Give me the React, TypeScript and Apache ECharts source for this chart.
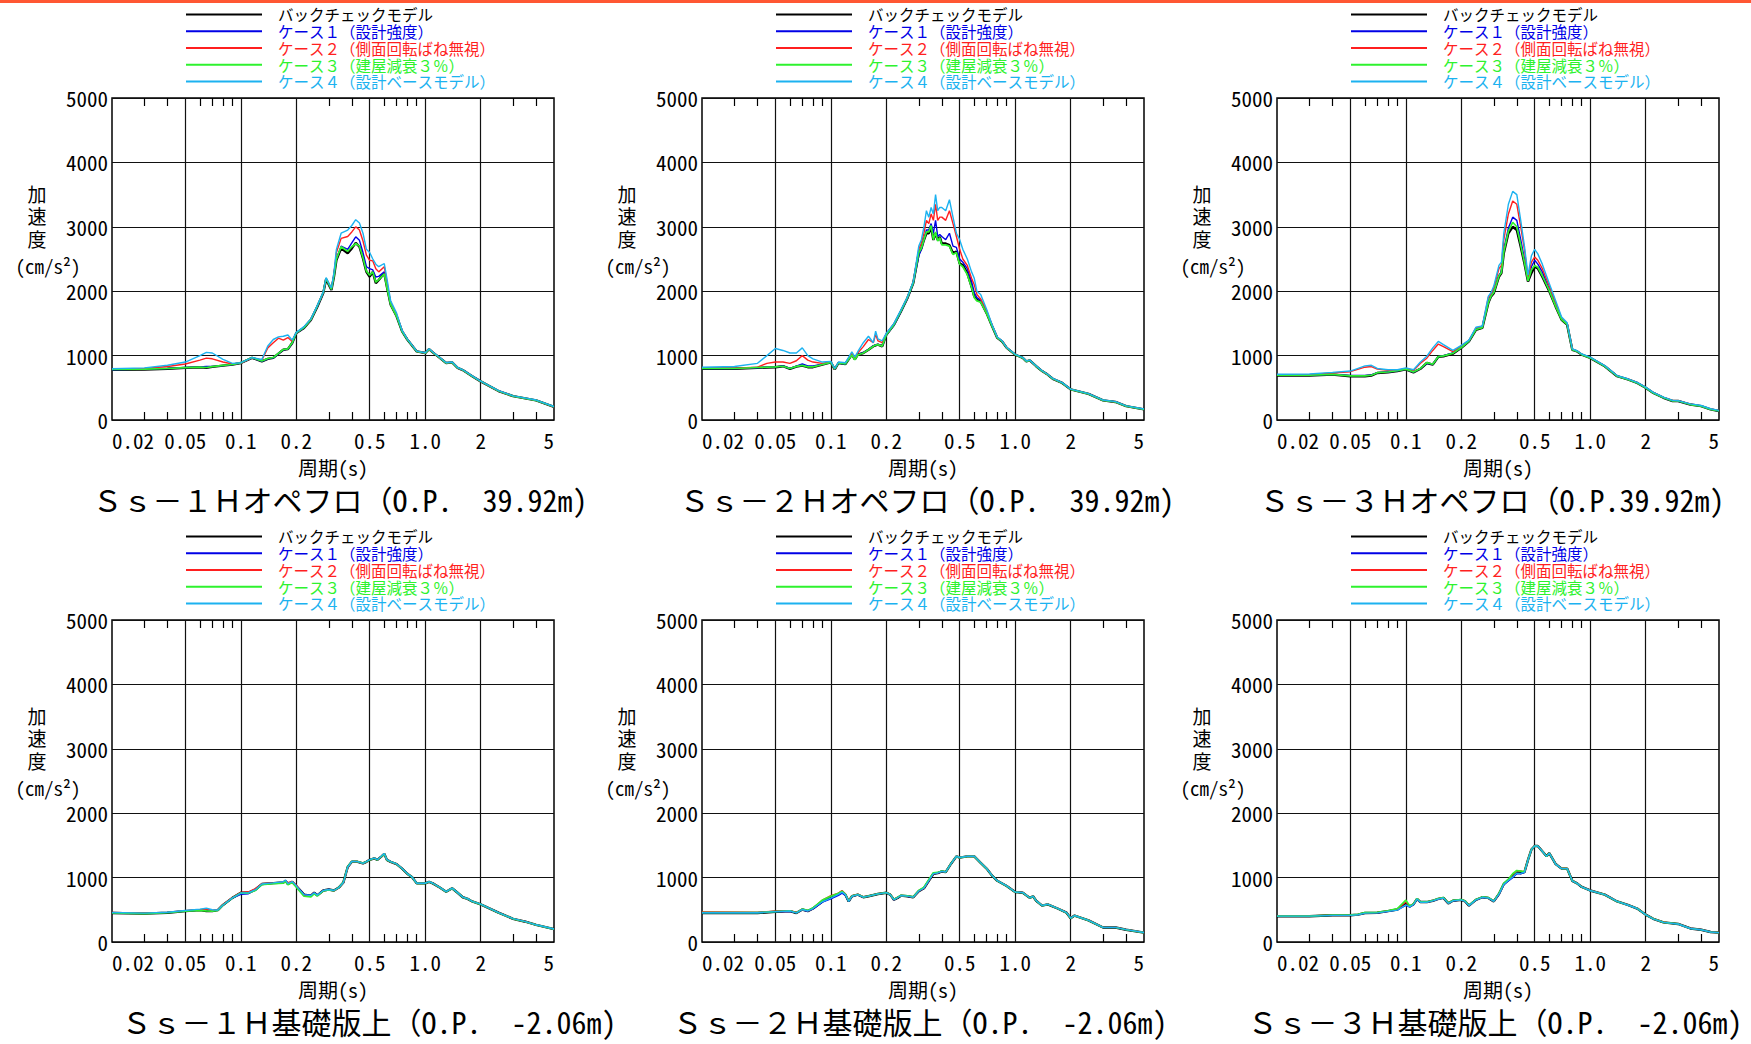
import React, { useEffect, useRef } from "react";
import * as echarts from "echarts";

// ---------- shared texts / styles ----------
const SERIES_NAMES = [
  "バックチェックモデル",
  "ケース１（設計強度）",
  "ケース２（側面回転ばね無視）",
  "ケース３（建屋減衰３％）",
  "ケース４（設計ベースモデル）",
];
const SERIES_COLORS = ["#000000", "#0000e6", "#ff1f1f", "#2ef22e", "#1cb2f0"];
const SERIES_WIDTHS = [2.4, 1.4, 1.4, 1.7, 1.4];

const X_MIN = 0.02;
const X_MAX = 5;
const X_LABELS = [0.02, 0.05, 0.1, 0.2, 0.5, 1, 2, 5];
const X_LABEL_TEXT = ["0.02", "0.05", "0.1", "0.2", "0.5", "1.0", "2", "5"];
const X_GRID = [0.05, 0.1, 0.2, 0.5, 1, 2];
const X_MINOR = [0.03, 0.04, 0.06, 0.07, 0.08, 0.09, 0.3, 0.4, 0.6, 0.7, 0.8, 0.9, 3, 4];
const Y_MIN = 0;
const Y_MAX = 5000;
const Y_INTERVAL = 1000;

const X_NAME = "周期(s)";
const Y_NAME = "加\n速\n度";
const Y_UNIT = "(cm/s²)";

const TITLES = [
  "Ｓｓ－１Ｈオペフロ（O.P.  39.92m)",
  "Ｓｓ－２Ｈオペフロ（O.P.  39.92m)",
  "Ｓｓ－３Ｈオペフロ（O.P.39.92m)",
  "Ｓｓ－１Ｈ基礎版上（O.P.  -2.06m)",
  "Ｓｓ－２Ｈ基礎版上（O.P.  -2.06m)",
  "Ｓｓ－３Ｈ基礎版上（O.P.  -2.06m)",
];

// ---------- panel 1 : Ss-1H オペフロ ----------
const P1_PERIOD = [0.02,0.03,0.04,0.05,0.06,0.065,0.07,0.08,0.09,0.1,0.115,0.13,0.14,0.15,0.16,0.17,0.18,0.19,0.2,0.22,0.24,0.26,0.28,0.29,0.31,0.32,0.33,0.35,0.38,0.4,0.42,0.44,0.46,0.48,0.5,0.52,0.54,0.56,0.6,0.62,0.65,0.7,0.75,0.8,0.9,1.0,1.05,1.1,1.2,1.3,1.4,1.5,1.6,1.8,2.0,2.5,3,4,5];
const P1_BC = [780,785,795,810,820,810,825,845,860,885,965,910,950,965,1030,1090,1100,1195,1350,1430,1555,1760,1970,2185,2020,2225,2485,2665,2590,2665,2750,2690,2510,2300,2225,2300,2125,2175,2280,2070,1790,1610,1375,1250,1065,1040,1100,1050,965,885,895,810,775,680,600,450,370,305,205];
const P1_C1 = [780,790,800,815,825,830,830,845,860,885,965,910,950,965,1030,1090,1100,1195,1350,1430,1555,1760,1970,2190,2030,2235,2500,2700,2650,2750,2845,2790,2600,2380,2350,2330,2220,2230,2300,2100,1800,1615,1375,1250,1065,1040,1100,1050,965,885,895,810,775,680,600,450,370,305,205];
const P1_C2 = [790,800,830,870,930,960,950,900,870,885,965,930,1120,1200,1270,1240,1280,1220,1350,1440,1560,1770,1980,2200,2040,2260,2600,2820,2850,2920,3000,2950,2780,2560,2480,2470,2350,2300,2380,2150,1820,1640,1385,1255,1065,1040,1100,1050,965,885,895,810,775,680,600,450,370,305,205];
const P1_C3 = [785,790,800,812,822,815,828,848,862,888,970,915,955,970,1035,1095,1105,1200,1355,1435,1560,1770,1980,2200,2030,2235,2500,2690,2620,2690,2740,2700,2520,2310,2250,2300,2140,2180,2270,2060,1790,1610,1375,1250,1065,1040,1100,1050,965,885,895,810,775,680,600,450,370,305,205];
const P1_C4 = [795,810,850,900,1000,1050,1040,940,880,890,970,940,1150,1250,1290,1300,1320,1240,1360,1450,1570,1780,1990,2210,2050,2290,2650,2900,2950,3020,3110,3060,2900,2650,2600,2500,2420,2380,2430,2200,1850,1660,1390,1260,1070,1045,1105,1055,970,890,900,815,780,685,605,455,375,310,210];

// ---------- panel 2 : Ss-2H オペフロ ----------
const P2_PERIOD = [0.02,0.03,0.04,0.045,0.05,0.055,0.06,0.065,0.07,0.075,0.08,0.09,0.1,0.105,0.11,0.12,0.13,0.135,0.14,0.15,0.16,0.17,0.175,0.18,0.19,0.2,0.22,0.24,0.26,0.28,0.3,0.31,0.32,0.33,0.34,0.35,0.36,0.37,0.38,0.39,0.4,0.42,0.44,0.46,0.48,0.5,0.52,0.55,0.58,0.6,0.62,0.65,0.7,0.75,0.8,0.85,0.9,1.0,1.1,1.15,1.2,1.3,1.4,1.5,1.6,1.8,2.0,2.5,3,3.5,4,5];
const P2_BC = [795,795,810,815,820,835,795,830,845,820,820,860,895,785,885,870,1015,940,1015,1040,1090,1145,1160,1170,1145,1325,1480,1685,1890,2125,2590,2665,2795,2900,2900,3000,2795,2900,2795,2845,2740,2740,2715,2590,2615,2430,2405,2280,2070,1920,1865,1840,1660,1455,1275,1220,1120,1015,965,910,925,835,760,705,640,575,475,405,305,280,215,165];
const P2_C1 = [800,800,812,820,825,838,800,835,870,840,840,865,895,785,885,870,1015,940,1015,1045,1095,1150,1170,1175,1150,1320,1470,1680,1880,2120,2550,2650,2800,2950,2950,3050,2900,3100,2850,2880,2850,2800,2900,2700,2680,2500,2450,2350,2150,1980,1900,1860,1670,1460,1275,1220,1120,1015,965,910,925,835,760,705,640,575,475,405,305,280,215,165];
const P2_C2 = [810,805,820,880,900,900,880,920,1000,930,900,880,900,790,890,880,1040,960,1040,1140,1250,1200,1330,1230,1200,1340,1490,1700,1900,2140,2650,2750,2900,3100,3050,3200,3100,3350,3100,3150,3150,3100,3250,3050,2850,2650,2500,2400,2200,2100,1950,1880,1700,1470,1280,1225,1120,1015,965,910,925,835,760,705,640,575,475,405,305,280,215,165];
const P2_C3 = [800,800,815,820,825,835,800,832,848,825,825,862,895,790,887,872,1010,935,1010,1040,1090,1145,1165,1170,1148,1325,1480,1690,1895,2130,2600,2670,2800,2920,2920,3020,2800,2920,2780,2830,2720,2720,2700,2570,2600,2420,2380,2260,2060,1900,1850,1830,1655,1455,1275,1220,1120,1015,965,910,925,835,760,705,640,575,475,405,305,280,215,165];
const P2_C4 = [820,830,880,1000,1110,1080,1040,1040,1120,1000,950,900,910,800,900,890,1060,980,1060,1200,1300,1200,1380,1260,1230,1350,1500,1710,1910,2150,2700,2800,3000,3250,3150,3300,3200,3500,3250,3300,3300,3250,3420,3150,2900,2800,2650,2500,2300,2200,2000,1950,1720,1480,1290,1230,1125,1020,970,915,930,840,765,710,645,580,480,410,310,285,220,170];

// ---------- panel 3 : Ss-3H オペフロ ----------
const P3_PERIOD = [0.02,0.03,0.04,0.05,0.06,0.065,0.07,0.08,0.09,0.1,0.11,0.12,0.13,0.14,0.15,0.16,0.18,0.2,0.22,0.24,0.26,0.28,0.29,0.3,0.32,0.33,0.34,0.36,0.38,0.4,0.42,0.44,0.46,0.48,0.5,0.52,0.55,0.6,0.65,0.7,0.75,0.8,0.85,0.9,1.0,1.2,1.4,1.6,1.8,2.0,2.2,2.5,2.8,3,3.5,4,4.5,5];
const P3_BC = [690,690,705,680,680,690,730,740,760,785,740,795,885,860,980,990,1030,1120,1220,1400,1430,1815,1920,1970,2225,2280,2590,2900,3000,2950,2690,2430,2150,2280,2380,2355,2225,2000,1760,1555,1480,1090,1065,1015,965,835,680,630,575,500,420,345,295,295,240,215,165,140];
const P3_C1 = [695,695,710,690,690,700,735,745,765,790,745,800,880,870,985,1000,1040,1125,1225,1410,1440,1830,1930,1990,2250,2300,2650,2980,3150,3100,2800,2500,2180,2380,2480,2420,2300,2030,1780,1570,1490,1095,1065,1015,965,835,680,630,575,500,420,345,295,295,240,215,165,140];
const P3_C2 = [700,705,730,750,820,830,790,770,770,800,770,880,960,1080,1180,1140,1060,1150,1230,1430,1450,1900,1960,2050,2350,2400,2800,3200,3400,3350,3000,2650,2200,2450,2530,2480,2350,2080,1820,1580,1500,1100,1070,1020,970,840,685,635,580,505,425,350,300,300,245,220,170,145];
const P3_C3 = [695,695,708,685,685,695,735,745,765,790,745,800,890,865,985,995,1035,1125,1225,1405,1435,1820,1925,1980,2235,2290,2610,2930,3070,3000,2720,2450,2160,2330,2400,2370,2240,2010,1765,1560,1485,1090,1065,1015,965,835,680,630,575,500,420,345,295,295,240,215,165,140];
const P3_C4 = [710,715,740,760,840,850,800,780,780,810,780,900,990,1120,1220,1170,1080,1160,1240,1440,1460,1920,1980,2080,2400,2450,2900,3350,3550,3500,3100,2700,2250,2550,2650,2580,2420,2120,1850,1600,1510,1105,1075,1025,975,845,690,640,585,510,430,355,305,300,250,225,175,150];

// ---------- panel 4 : Ss-1H 基礎版上 ----------
const P4_PERIOD = [0.02,0.03,0.04,0.05,0.06,0.065,0.07,0.075,0.08,0.09,0.1,0.11,0.12,0.13,0.15,0.17,0.175,0.18,0.19,0.2,0.22,0.24,0.25,0.26,0.28,0.3,0.32,0.34,0.36,0.38,0.4,0.43,0.46,0.48,0.5,0.53,0.55,0.58,0.6,0.62,0.65,0.7,0.75,0.8,0.85,0.9,1.0,1.05,1.1,1.2,1.3,1.4,1.5,1.6,1.7,1.8,2.0,2.5,3,3.5,4,5];
const P4_BC = [450,440,455,480,495,480,480,495,575,685,765,765,815,900,915,925,950,900,935,870,735,720,765,725,800,815,800,845,925,1165,1245,1245,1220,1245,1275,1300,1275,1330,1370,1275,1245,1210,1140,1060,1005,910,910,935,910,845,780,835,765,695,670,630,585,455,360,315,265,200];
const P4_C1 = [455,445,458,482,498,500,485,495,570,680,740,750,805,895,915,928,948,905,932,872,738,722,765,728,800,815,802,845,920,1160,1245,1245,1222,1245,1275,1300,1275,1330,1370,1275,1245,1210,1140,1060,1005,910,910,935,910,845,780,835,765,695,670,630,585,455,360,315,265,200];
const P4_C2 = [460,448,460,485,500,510,490,500,580,690,770,780,830,905,918,930,955,920,940,880,720,715,760,722,798,812,798,842,920,1160,1245,1245,1220,1245,1275,1300,1275,1330,1370,1275,1245,1210,1140,1060,1005,910,910,935,910,845,780,835,765,695,670,630,585,455,360,315,265,200];
const P4_C3 = [452,442,456,478,492,482,478,492,572,682,760,760,800,890,905,915,940,890,925,850,710,700,750,715,795,810,798,845,930,1170,1250,1248,1222,1248,1275,1300,1275,1330,1370,1275,1245,1210,1140,1060,1005,910,910,935,910,845,780,835,765,695,670,630,585,455,360,315,265,200];
const P4_C4 = [458,448,462,490,510,525,500,498,575,685,760,765,812,900,918,935,960,905,938,872,735,722,765,728,800,815,800,845,925,1165,1250,1248,1222,1248,1278,1302,1278,1335,1375,1278,1248,1212,1142,1062,1007,912,912,937,912,847,782,837,767,697,672,632,587,457,362,317,267,202];

// ---------- panel 5 : Ss-2H 基礎版上 ----------
const P5_PERIOD = [0.02,0.03,0.04,0.05,0.06,0.065,0.07,0.075,0.08,0.09,0.1,0.11,0.115,0.12,0.125,0.13,0.14,0.15,0.16,0.18,0.2,0.21,0.22,0.23,0.24,0.26,0.28,0.3,0.32,0.34,0.36,0.38,0.4,0.42,0.45,0.48,0.5,0.55,0.6,0.65,0.7,0.75,0.8,0.9,1.0,1.1,1.2,1.25,1.3,1.4,1.5,1.7,1.9,2.0,2.1,2.5,3,3.5,4,5];
const P5_BC = [450,450,450,470,480,450,505,480,520,630,695,745,780,735,630,710,735,695,710,745,765,735,655,685,720,710,695,790,835,950,1060,1070,1095,1085,1220,1330,1310,1330,1330,1230,1140,1030,950,870,775,765,685,710,640,565,585,520,455,370,410,335,225,225,190,145];
const P5_C1 = [452,452,452,468,478,452,500,478,515,620,670,725,760,725,625,705,732,695,710,745,765,735,655,685,720,710,695,790,835,950,1060,1070,1095,1085,1220,1330,1310,1330,1330,1230,1140,1030,950,870,775,765,685,710,640,565,585,520,455,370,410,335,225,225,190,145];
const P5_C2 = [465,462,460,480,485,460,505,485,525,650,720,760,800,745,640,715,738,700,712,748,768,738,658,688,722,712,698,792,838,955,1062,1072,1097,1087,1222,1332,1312,1332,1332,1232,1142,1032,952,872,777,767,687,712,642,567,587,522,457,372,412,337,227,227,192,147];
const P5_C3 = [455,455,455,472,485,455,510,490,530,650,710,755,790,740,635,712,738,698,712,748,768,738,660,690,725,715,700,800,850,970,1075,1080,1100,1088,1222,1330,1310,1330,1330,1230,1140,1030,950,870,775,765,685,710,640,565,585,520,455,370,410,335,225,225,190,145];
const P5_C4 = [455,455,455,472,482,452,505,482,520,625,680,740,775,735,632,710,735,697,712,747,767,737,657,687,722,712,697,792,837,952,1062,1072,1097,1087,1222,1332,1312,1332,1332,1232,1142,1032,952,872,777,767,687,712,642,567,587,522,457,372,412,337,227,227,192,147];

// ---------- panel 6 : Ss-3H 基礎版上 ----------
const P6_PERIOD = [0.02,0.03,0.04,0.05,0.055,0.06,0.07,0.08,0.09,0.1,0.105,0.11,0.115,0.12,0.13,0.14,0.15,0.16,0.17,0.18,0.2,0.21,0.22,0.24,0.26,0.28,0.3,0.32,0.34,0.36,0.38,0.4,0.42,0.44,0.46,0.48,0.5,0.52,0.55,0.58,0.6,0.65,0.7,0.75,0.8,0.85,0.9,1.0,1.2,1.4,1.6,1.8,2.0,2.2,2.5,3,3.5,4,4.5,5];
const P6_BC = [400,400,415,415,425,450,455,480,505,600,550,585,670,620,620,640,670,685,600,640,655,630,565,655,695,685,630,745,900,960,1030,1085,1070,1085,1275,1435,1490,1490,1410,1330,1380,1210,1140,1140,950,910,855,800,735,630,575,520,425,360,305,280,210,190,155,145];
const P6_C1 = [402,402,415,415,425,448,452,478,500,570,545,580,665,618,620,640,668,685,600,640,655,630,565,655,695,685,630,740,890,950,1000,1060,1060,1080,1270,1435,1490,1490,1410,1330,1380,1210,1140,1140,950,910,855,800,735,630,575,520,425,360,305,280,210,190,155,145];
const P6_C2 = [405,405,418,418,428,452,458,482,510,620,555,588,672,622,622,642,672,688,602,642,657,632,567,657,697,687,632,750,905,970,1050,1100,1105,1090,1278,1438,1492,1492,1412,1332,1382,1212,1142,1142,952,912,857,802,737,632,577,522,427,362,307,282,212,192,157,147];
const P6_C3 = [403,403,416,416,428,455,460,485,520,650,560,590,675,625,625,645,675,690,605,645,660,635,570,660,700,690,635,755,910,975,1060,1110,1100,1090,1275,1435,1490,1490,1410,1330,1380,1210,1140,1140,950,910,855,800,735,630,575,520,425,360,305,280,210,190,155,145];
const P6_C4 = [402,402,414,414,424,448,452,476,495,575,545,582,668,618,618,638,668,684,600,640,654,630,565,654,694,684,630,742,895,955,1010,1070,1065,1083,1273,1434,1490,1490,1410,1330,1380,1210,1140,1140,950,910,855,800,735,630,575,520,425,360,305,280,210,190,155,145];

const PANELS = [
  { period: P1_PERIOD, values: [P1_BC, P1_C1, P1_C2, P1_C3, P1_C4] },
  { period: P2_PERIOD, values: [P2_BC, P2_C1, P2_C2, P2_C3, P2_C4] },
  { period: P3_PERIOD, values: [P3_BC, P3_C1, P3_C2, P3_C3, P3_C4] },
  { period: P4_PERIOD, values: [P4_BC, P4_C1, P4_C2, P4_C3, P4_C4] },
  { period: P5_PERIOD, values: [P5_BC, P5_C1, P5_C2, P5_C3, P5_C4] },
  { period: P6_PERIOD, values: [P6_BC, P6_C1, P6_C2, P6_C3, P6_C4] },
];

// ---------- layout ----------
const GRID_LEFTS = [112, 702, 1277];
const GRID_TOPS = [98, 620];
const GRID_W = 442;
const GRID_H = 322;
const TITLE_CENTERS = [340, 927, 1492, 369, 920, 1495];
const FONT = "'Noto Sans Mono CJK JP', 'Noto Sans CJK JP', 'Noto Sans', sans-serif";

const lg = (v: number) => Math.log10(v);

function buildOption() {
  const grid: any[] = [];
  const xAxis: any[] = [];
  const yAxis: any[] = [];
  const series: any[] = [];
  const legend: any[] = [];
  const graphic: any[] = [];

  graphic.push({
    type: "rect",
    shape: { x: 0, y: 0, width: 1751, height: 3 },
    style: { fill: "#ff5733" },
    silent: true,
  });

  const labelFormatter = (v: number) => {
    const i = X_LABELS.findIndex((l) => Math.abs(lg(l) - v) < 1e-6);
    return i >= 0 ? X_LABEL_TEXT[i] : "";
  };

  PANELS.forEach((panel, g) => {
    const L = GRID_LEFTS[g % 3];
    const T = GRID_TOPS[Math.floor(g / 3)];
    grid.push({
      left: L,
      top: T,
      width: GRID_W,
      height: GRID_H,
      show: true,
      borderColor: "#000",
      borderWidth: 1.5,
      backgroundColor: "transparent",
    });
    const base = { type: "value", gridIndex: g, min: lg(X_MIN), max: lg(X_MAX) };
    // labels + bottom minor ticks
    xAxis.push({
      ...base,
      position: "bottom",
      axisLine: { show: false, onZero: false },
      axisTick: {
        show: true,
        inside: true,
        length: 8,
        customValues: X_MINOR.map(lg),
        lineStyle: { color: "#000", width: 1.2 },
      },
      splitLine: { show: false },
      axisLabel: {
        customValues: X_LABELS.map(lg),
        formatter: labelFormatter,
        fontSize: 21,
        color: "#000",
        margin: 9,
        fontFamily: FONT,
        alignMinLabel: "left",
        alignMaxLabel: "right",
      },
      name: X_NAME,
      nameLocation: "middle",
      nameGap: 37,
      nameTextStyle: { fontSize: 20, color: "#000", fontFamily: FONT },
    });
    // top minor ticks
    xAxis.push({
      ...base,
      position: "top",
      axisLine: { show: false, onZero: false },
      axisTick: {
        show: true,
        inside: true,
        length: 8,
        customValues: X_MINOR.map(lg),
        lineStyle: { color: "#000", width: 1.2 },
      },
      axisLabel: { show: false },
      splitLine: { show: false },
    });
    // major grid lines
    xAxis.push({
      ...base,
      position: "bottom",
      axisLine: { show: false, onZero: false },
      axisTick: { show: false, customValues: X_GRID.map(lg) },
      axisLabel: { show: false },
      splitLine: { show: true, lineStyle: { color: "#111", width: 1.2 } },
    });
    yAxis.push({
      type: "value",
      gridIndex: g,
      min: Y_MIN,
      max: Y_MAX,
      interval: Y_INTERVAL,
      axisLine: { show: false },
      axisTick: { show: false },
      splitLine: { show: true, lineStyle: { color: "#111", width: 1.2 } },
      axisLabel: {
        fontSize: 21,
        color: "#000",
        margin: 4,
        fontFamily: FONT,
        padding: [8, 0, 0, 0],
        formatter: (v: number) => String(v),
      },
    });
    panel.values.forEach((vals, s) => {
      series.push({
        type: "line",
        name: SERIES_NAMES[s],
        xAxisIndex: 3 * g,
        yAxisIndex: g,
        data: panel.period.map((p, i) => [lg(p), vals[i]]),
        symbol: "none",
        showSymbol: false,
        silent: true,
        lineStyle: { color: SERIES_COLORS[s], width: SERIES_WIDTHS[s] },
        itemStyle: { color: SERIES_COLORS[s] },
      });
    });
    legend.push({
      orient: "vertical",
      left: L + 74,
      top: T - 92,
      padding: 0,
      itemWidth: 76,
      itemHeight: 2,
      itemGap: 0,
      icon: "rect",
      selectedMode: false,
      textStyle: { fontSize: 15.5, lineHeight: 16.75, fontFamily: FONT, padding: [0, 0, 0, 11] },
      data: SERIES_NAMES.map((n, i) => ({ name: n, textStyle: { color: SERIES_COLORS[i] } })),
    });
    graphic.push({
      type: "text",
      x: L - 75,
      y: T + 117.5,
      silent: true,
      style: {
        text: Y_NAME,
        fontSize: 19,
        lineHeight: 22.5,
        fontFamily: FONT,
        fill: "#000",
        align: "center",
        verticalAlign: "middle",
      },
    });
    graphic.push({
      type: "text",
      x: L - 64,
      y: T + 167,
      silent: true,
      style: {
        text: Y_UNIT,
        fontSize: 19,
        fontFamily: FONT,
        fill: "#000",
        align: "center",
        verticalAlign: "middle",
      },
    });
    graphic.push({
      type: "text",
      x: TITLE_CENTERS[g],
      y: T + 401,
      silent: true,
      style: {
        text: TITLES[g],
        fontSize: 30,
        fontFamily: FONT,
        fill: "#000",
        align: "center",
        verticalAlign: "middle",
      },
    });
  });

  return {
    animation: false,
    backgroundColor: "#ffffff",
    grid,
    xAxis,
    yAxis,
    series,
    legend,
    graphic,
  };
}

export default function App() {
  const ref = useRef<HTMLDivElement>(null);
  useEffect(() => {
    if (!ref.current) return;
    const chart = echarts.init(ref.current, undefined, { renderer: "svg" });
    chart.setOption(buildOption() as any);
    return () => chart.dispose();
  }, []);
  return (
    <div
      ref={ref}
      style={{ position: "fixed", left: 0, top: 0, width: 1751, height: 1044, background: "#fff" }}
    />
  );
}
